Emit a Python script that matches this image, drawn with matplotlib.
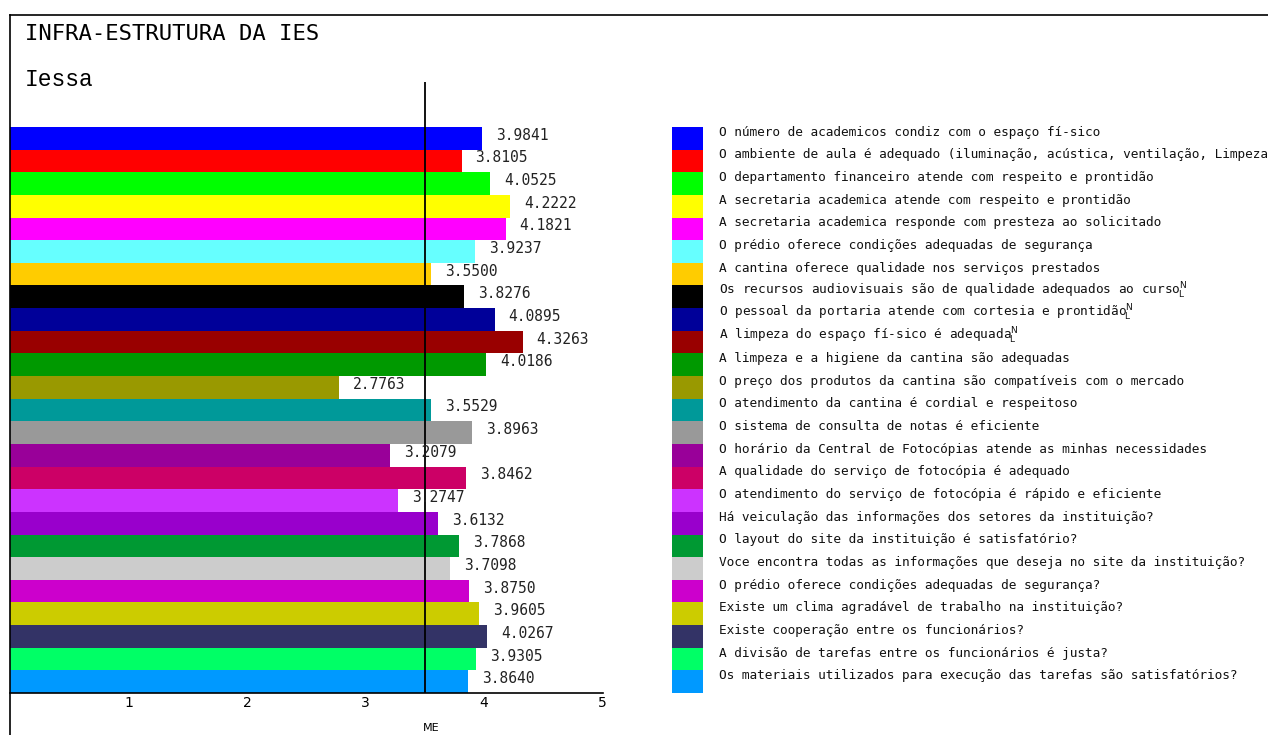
import matplotlib
matplotlib.use("Agg")
import matplotlib.pyplot as plt
from matplotlib.patches import Rectangle
from matplotlib.lines import Line2D

title = "INFRA-ESTRUTURA DA IES"
subtitle = "Iessa"
reference_label = "ME"
reference_value = 3.5

categories = [
    "O número de academicos condiz com o espaço fí-sico",
    "O ambiente de aula é adequado (iluminação, acústica, ventilação, Limpeza)",
    "O departamento financeiro atende com respeito e prontidão",
    "A secretaria academica atende com respeito e prontidão",
    "A secretaria academica responde com presteza ao solicitado",
    "O prédio oferece condições adequadas de segurança",
    "A cantina oferece qualidade nos serviços prestados",
    "Os recursos audiovisuais são de qualidade adequados ao curso\u2424",
    "O pessoal da portaria atende com cortesia e prontidão\u2424",
    "A limpeza do espaço fí-sico é adequada\u2424",
    "A limpeza e a higiene da cantina são adequadas",
    "O preço dos produtos da cantina são compatíveis com o mercado",
    "O atendimento da cantina é cordial e respeitoso",
    "O sistema de consulta de notas é eficiente",
    "O horário da Central de Fotocópias atende as minhas necessidades",
    "A qualidade do serviço de fotocópia é adequado",
    "O atendimento do serviço de fotocópia é rápido e eficiente",
    "Há veiculação das informações dos setores da instituição?",
    "O layout do site da instituição é satisfatório?",
    "Voce encontra todas as informações que deseja no site da instituição?",
    "O prédio oferece condições adequadas de segurança?",
    "Existe um clima agradável de trabalho na instituição?",
    "Existe cooperação entre os funcionários?",
    "A divisão de tarefas entre os funcionários é justa?",
    "Os materiais utilizados para execução das tarefas são satisfatórios?",
]

values = [3.9841, 3.8105, 4.0525, 4.2222, 4.1821, 3.9237, 3.5500, 3.8276,
          4.0895, 4.3263, 4.0186, 2.7763, 3.5529, 3.8963, 3.2079, 3.8462,
          3.2747, 3.6132, 3.7868, 3.7098, 3.8750, 3.9605, 4.0267, 3.9305,
          3.8640]

colors = ["#0000ff", "#ff0000", "#00ff00", "#ffff00", "#ff00ff", "#66ffff",
          "#ffcc00", "#000000", "#000099", "#990000", "#009900", "#999900",
          "#009999", "#999999", "#990099", "#cc0066", "#cc33ff", "#9900cc",
          "#009933", "#cccccc", "#cc00cc", "#cccc00", "#333366", "#00ff66",
          "#0099ff"]

xticks = [1, 2, 3, 4, 5]
xtick_labels = ["1", "2", "3", "4", "5"]

W, H = 1268, 735
fig = plt.figure(figsize=(W / 100, H / 100), dpi=100)
fig.patch.set_facecolor("white")

mono = ["DejaVu Sans Mono", "DejaVu Sans"]
# the "symbol for newline" glyph is in no installed font: draw it as stacked N/L
nl_symbol = r"$^{\mathsf{N}}_{\!\mathsf{L}}$"

def fx(px):
    return px / W

def fy(py):
    return 1 - py / H

# axes: x from px 10 to 602.5, y from px 82 (top) to 693 (bottom)
ax_left, ax_right, ax_top, ax_bottom = 10, 602.5, 82, 693
ax = fig.add_axes([fx(ax_left), fy(ax_bottom), fx(ax_right - ax_left),
                   (ax_bottom - ax_top) / H])
n = len(values)
bar_px = (693 - 127) / n
extra = (127 - 82) / bar_px
pos = list(range(n))
ax.barh(pos, values, height=1.0, color=colors, edgecolor="none")
ax.set_xlim(0, 5)
ax.set_ylim(n - 0.5, -0.5 - extra)
ax.axvline(reference_value, color="black", lw=1.3)

for i, v in enumerate(values):
    ax.annotate(f"{v:.4f}", xy=(v, i), xytext=(14, 3), textcoords="offset pixels",
                ha="left", va="center", fontsize=10.5, family="DejaVu Sans Mono",
                color="#222222")

for s in ["left", "right", "top"]:
    ax.spines[s].set_visible(False)
ax.spines["bottom"].set_linewidth(1.2)
ax.set_yticks([])
ax.set_xticks(xticks)
ax.set_xticklabels(xtick_labels, fontsize=10, family="DejaVu Sans")
ax.tick_params(axis="x", length=0, pad=2)
ax.set_facecolor("none")

# frame lines
fig.add_artist(Line2D([fx(10), fx(10)], [fy(15), 0], color="black", lw=1.2))
fig.add_artist(Line2D([fx(10), 1], [fy(15), fy(15)], color="black", lw=1.2))

# titles
fig.text(fx(25), fy(34), title, ha="left", va="center", fontsize=16,
         family="DejaVu Sans Mono")
fig.text(fx(25), fy(80), subtitle, ha="left", va="center", fontsize=16.5,
         family="Liberation Mono")
fig.text(fx(431), fy(728), reference_label, ha="center", va="center",
         fontsize=8, family="DejaVu Sans")

# legend
for i, (c, lab) in enumerate(zip(colors, categories)):
    top = 127 + i * bar_px
    fig.add_artist(Rectangle((fx(672), fy(top + bar_px)), fx(703) - fx(672),
                             bar_px / H, facecolor=c, edgecolor="none"))
    shown = lab.replace("\u2424", nl_symbol)
    fig.text(fx(719), fy(top + bar_px / 2 - 6), shown, ha="left", va="center",
             fontsize=9.2, family=mono, color="#111111")

fig.savefig("out.png", dpi=100)
